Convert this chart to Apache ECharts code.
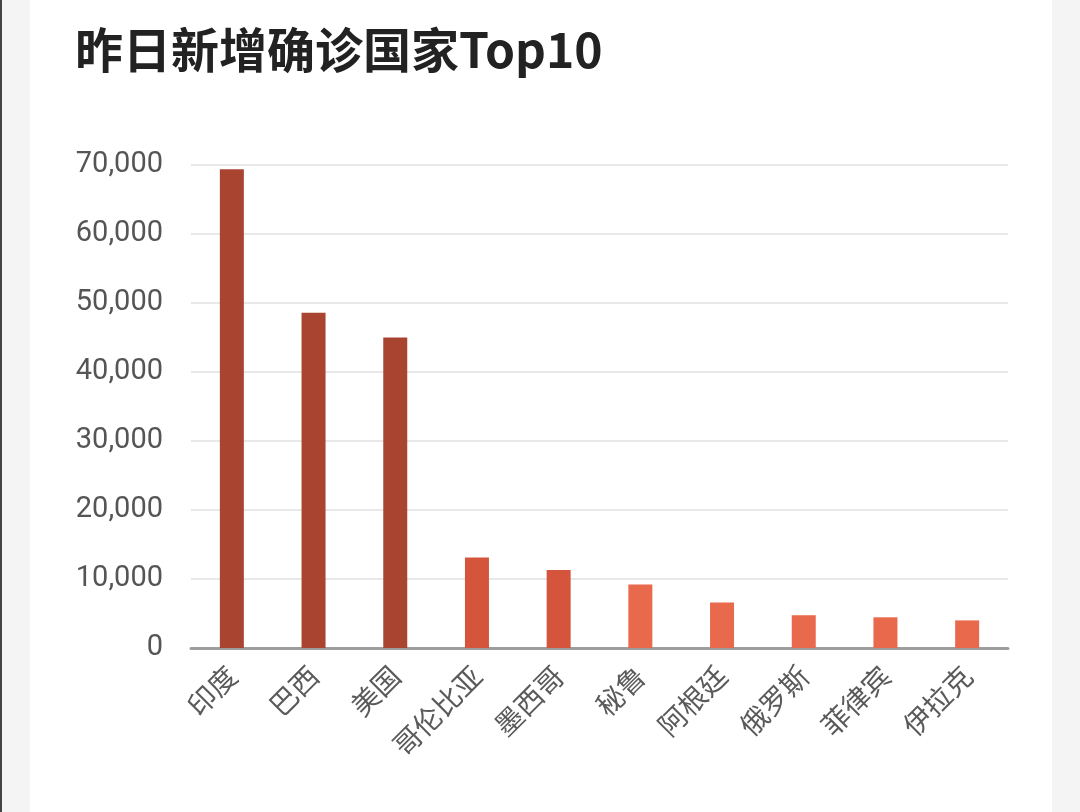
<!DOCTYPE html>
<html>
<head>
<meta charset="utf-8">
<script src="https://cdn.jsdelivr.net/npm/echarts@6/dist/echarts.min.js"></script>
<style>
html,body{margin:0;padding:0;width:1080px;height:812px;background:#f4f4f4;overflow:hidden;}
#edge{position:absolute;left:0;top:0;width:2px;height:812px;background:#444;}
#card{position:absolute;left:30px;top:0;width:1022px;height:812px;background:#fff;}
#title{position:absolute;left:75px;top:18px;font-family:"Noto Sans CJK SC","Noto Sans",sans-serif;font-weight:bold;font-size:48px;color:#222;line-height:58px;white-space:nowrap;}
#chart{position:absolute;left:0;top:0;width:1080px;height:812px;}
</style>
</head>
<body>
<div id="edge"></div>
<div id="card"></div>
<div id="chart"></div>
<div id="title">昨日新增确诊国家Top10</div>
<script>
const categories = ['印度','巴西','美国','哥伦比亚','墨西哥','秘鲁','阿根廷','俄罗斯','菲律宾','伊拉克'];
const values = [69400, 48600, 45000, 13100, 11300, 9200, 6600, 4750, 4450, 4000];
const yTicks = [0, 10000, 20000, 30000, 40000, 50000, 60000, 70000];
const barColors = ['#a8442f','#a8442f','#a8442f','#d4553b','#d4553b','#e8694b','#e8694b','#e8694b','#e8694b','#e8694b'];

const chart = echarts.init(document.getElementById('chart'), null, {renderer:'canvas'});
chart.setOption({
  animation:false,
  backgroundColor:'transparent',
  grid:{left:191, right:72, top:165, bottom:164, containLabel:false},
  xAxis:{
    type:'category',
    data:categories,
    axisLine:{lineStyle:{color:'#9e9e9e', width:3}},
    axisTick:{show:false},
    axisLabel:{rotate:45, margin:23, fontSize:28, color:'#5a5a5a', fontFamily:'"Noto Sans CJK SC",sans-serif', interval:0}
  },
  yAxis:{
    type:'value',
    min:yTicks[0],
    max:yTicks[yTicks.length-1],
    interval:10000,
    axisLine:{show:false},
    axisTick:{show:false},
    splitLine:{lineStyle:{color:'#e8e8e8', width:2}},
    axisLabel:{fontSize:29, color:'#555', margin:28, fontFamily:'Roboto,sans-serif',
      formatter:function(v){return v.toLocaleString('en-US');}}
  },
  series:[{
    type:'bar',
    barWidth:24,
    data:values.map((v,i)=>({value:v, itemStyle:{color:barColors[i]}}))
  }]
});
</script>
</body>
</html>
